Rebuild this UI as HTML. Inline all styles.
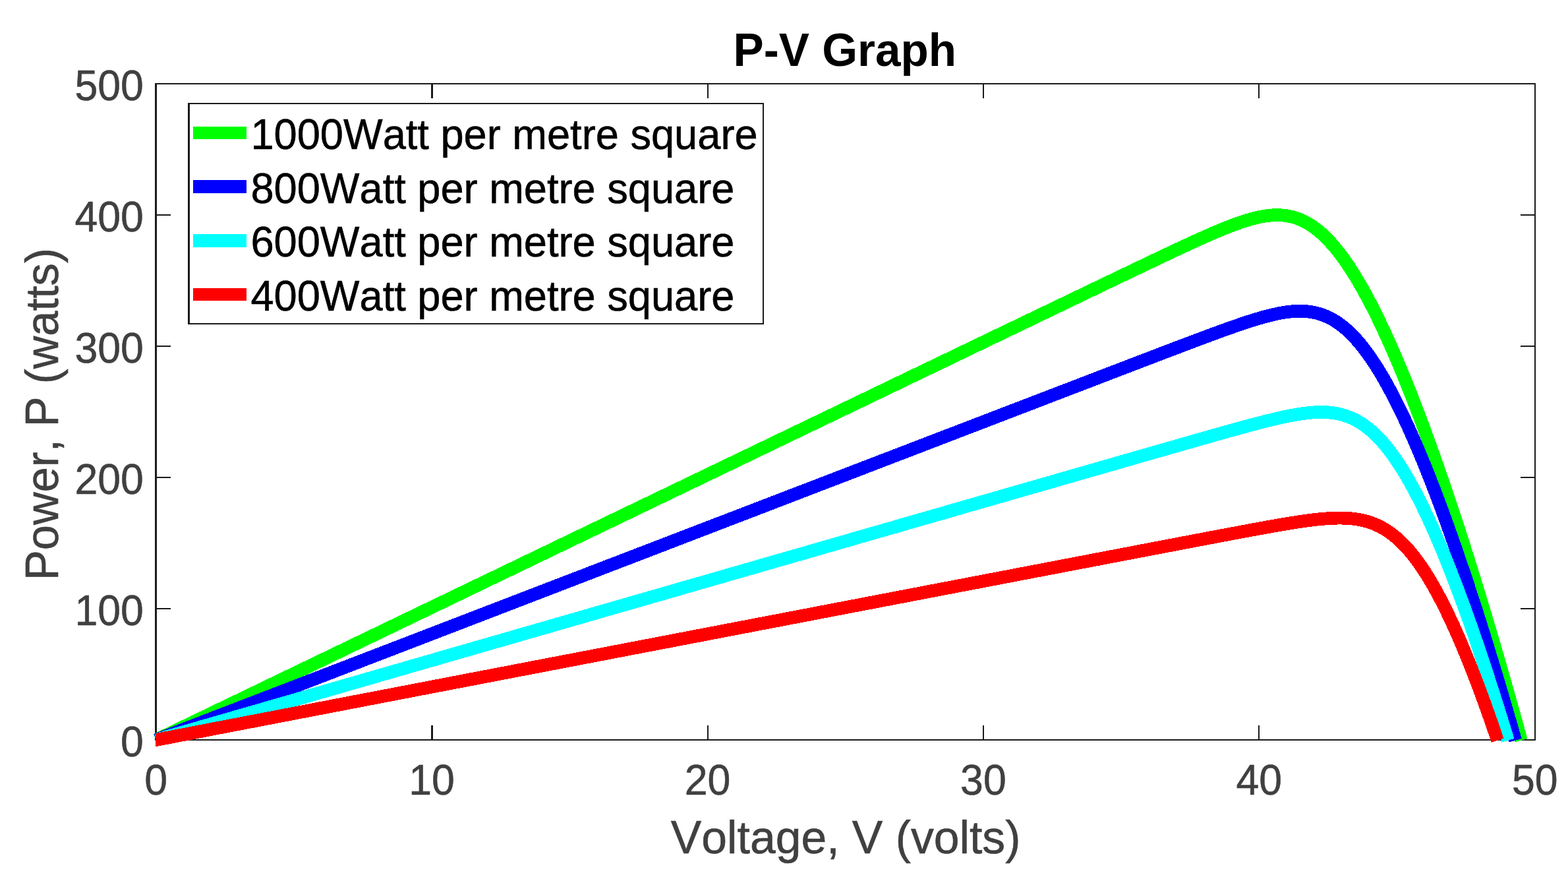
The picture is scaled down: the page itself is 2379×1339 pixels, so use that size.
<!DOCTYPE html>
<html lang="en">
<head>
<meta charset="utf-8">
<title>P-V Graph</title>
<style>
html,body{margin:0;padding:0;background:#fff;}
body{width:2379px;height:1339px;overflow:hidden;}
svg{display:block;}
text{font-family:"Liberation Sans",sans-serif;font-kerning:none;}
.tk{fill:#404040;stroke:#404040;stroke-width:0.6px;}
.lb{fill:#404040;stroke:#404040;stroke-width:0.6px;}
.tt{font-weight:bold;fill:#000;}
.lg{fill:#000;stroke:#000;stroke-width:0.6px;}
</style>
</head>
<body>
<svg width="2379" height="1339" viewBox="0 0 2379 1339" role="img" aria-label="P-V Graph">
<rect x="0" y="0" width="2379" height="1339" fill="#ffffff"/>
<g fill="#1a1a1a" shape-rendering="crispEdges">
<rect x="235" y="126" width="3" height="997"/>
<rect x="2328" y="126" width="2" height="997"/>
<rect x="235" y="126" width="2095" height="2"/>
<rect x="235" y="1121" width="2095" height="2"/>
<rect x="654" y="1100" width="3" height="21"/>
<rect x="654" y="128" width="3" height="21"/>
<rect x="1073" y="1100" width="2" height="21"/>
<rect x="1073" y="128" width="2" height="21"/>
<rect x="1491" y="1100" width="2" height="21"/>
<rect x="1491" y="128" width="2" height="21"/>
<rect x="1909" y="1100" width="2" height="21"/>
<rect x="1909" y="128" width="2" height="21"/>
<rect x="238" y="922" width="21" height="2"/>
<rect x="2307" y="922" width="21" height="2"/>
<rect x="238" y="723" width="21" height="2"/>
<rect x="2307" y="723" width="21" height="2"/>
<rect x="238" y="524" width="21" height="2"/>
<rect x="2307" y="524" width="21" height="2"/>
<rect x="238" y="325" width="21" height="2"/>
<rect x="2307" y="325" width="21" height="2"/>
</g>
<text class="tk" text-anchor="middle" font-size="65.30" transform="translate(236.70,1204.85) scale(0.9587,1)">0</text>
<text class="tk" text-anchor="middle" font-size="65.30" transform="translate(655.10,1204.85) scale(0.9587,1)">10</text>
<text class="tk" text-anchor="middle" font-size="65.30" transform="translate(1073.50,1204.85) scale(0.9587,1)">20</text>
<text class="tk" text-anchor="middle" font-size="65.30" transform="translate(1491.90,1204.85) scale(0.9587,1)">30</text>
<text class="tk" text-anchor="middle" font-size="65.30" transform="translate(1910.30,1204.85) scale(0.9587,1)">40</text>
<text class="tk" text-anchor="middle" font-size="65.30" transform="translate(2328.70,1204.85) scale(0.9587,1)">50</text>
<text class="tk" text-anchor="end" font-size="65.30" transform="translate(217.90,1147.00) scale(0.9587,1)">0</text>
<text class="tk" text-anchor="end" font-size="65.30" transform="translate(217.90,948.00) scale(0.9587,1)">100</text>
<text class="tk" text-anchor="end" font-size="65.30" transform="translate(217.90,749.00) scale(0.9587,1)">200</text>
<text class="tk" text-anchor="end" font-size="65.30" transform="translate(217.90,550.00) scale(0.9587,1)">300</text>
<text class="tk" text-anchor="end" font-size="65.30" transform="translate(217.90,351.00) scale(0.9587,1)">400</text>
<text class="tk" text-anchor="end" font-size="65.30" transform="translate(217.90,152.00) scale(0.9587,1)">500</text>
<text class="lb" text-anchor="start" font-size="70.40" transform="translate(1017.85,1293.90) scale(0.9898,1)">Voltage, V (volts)</text>
<text class="lb" text-anchor="start" font-size="70.10" transform="translate(88.00,880.00) rotate(-90) scale(0.9800,1)">Power, P (watts)</text>
<text class="tt" text-anchor="start" font-size="71.00" transform="translate(1112.50,100.00) scale(0.9754,1)">P-V Graph</text>
<g fill="none" stroke-width="19.8" stroke-linejoin="round" stroke-linecap="butt" shape-rendering="crispEdges">
<polyline stroke="#00ff00" points="237.00,1122.00 257.92,1111.93 278.84,1101.87 299.76,1091.81 320.68,1081.74 341.60,1071.68 362.52,1061.61 383.44,1051.55 404.36,1041.49 425.28,1031.43 446.20,1021.36 467.12,1011.30 488.04,1001.24 508.96,991.18 529.88,981.12 550.80,971.06 571.72,961.00 592.64,950.94 613.56,940.88 634.48,930.83 655.40,920.77 676.32,910.71 697.24,900.65 718.16,890.60 739.08,880.54 760.00,870.49 780.92,860.43 801.84,850.38 822.76,840.32 843.68,830.27 864.60,820.21 885.52,810.16 906.44,800.11 927.36,790.06 948.28,780.00 969.20,769.95 990.12,759.90 1011.04,749.85 1031.96,739.80 1052.88,729.75 1073.80,719.70 1094.72,709.65 1115.64,699.60 1136.56,689.55 1157.48,679.51 1178.40,669.46 1199.32,659.41 1220.24,649.36 1241.16,639.32 1262.08,629.27 1283.00,619.23 1303.92,609.18 1324.84,599.14 1345.76,589.09 1366.68,579.05 1387.60,569.00 1408.52,558.96 1429.44,548.92 1450.36,538.88 1471.28,528.83 1492.20,518.79 1513.12,508.75 1534.04,498.71 1554.96,488.67 1575.88,478.63 1596.80,468.59 1617.72,458.56 1638.64,448.52 1659.56,438.49 1680.48,428.46 1701.40,418.45 1722.32,408.45 1743.24,398.47 1745.42,397.44 1747.60,396.40 1749.78,395.36 1751.96,394.33 1754.14,393.29 1756.32,392.26 1758.50,391.22 1760.68,390.19 1762.86,389.16 1765.04,388.13 1767.22,387.10 1769.40,386.07 1771.58,385.04 1773.76,384.01 1775.94,382.99 1778.12,381.96 1780.30,380.94 1782.48,379.91 1784.67,378.89 1786.85,377.87 1789.03,376.85 1791.21,375.84 1793.39,374.82 1795.57,373.81 1797.75,372.80 1799.93,371.79 1802.11,370.78 1804.29,369.77 1806.47,368.77 1808.65,367.77 1810.83,366.77 1813.01,365.78 1815.19,364.79 1817.37,363.80 1819.55,362.81 1821.73,361.83 1823.91,360.85 1826.09,359.88 1828.27,358.91 1830.45,357.94 1832.63,356.98 1834.81,356.03 1836.99,355.08 1839.17,354.13 1841.35,353.19 1843.53,352.26 1845.71,351.33 1847.89,350.41 1850.07,349.50 1852.25,348.59 1854.43,347.69 1856.61,346.80 1858.79,345.92 1860.97,345.05 1863.15,344.19 1865.33,343.34 1867.52,342.50 1869.70,341.67 1871.88,340.85 1874.06,340.05 1876.24,339.26 1878.42,338.48 1880.60,337.72 1882.78,336.97 1884.96,336.24 1887.14,335.53 1889.32,334.83 1891.50,334.15 1893.68,333.50 1895.86,332.86 1898.04,332.24 1900.22,331.65 1902.40,331.08 1904.58,330.54 1906.76,330.02 1908.94,329.53 1911.12,329.06 1913.30,328.63 1915.48,328.22 1917.66,327.85 1919.84,327.51 1922.02,327.21 1924.20,326.94 1926.38,326.70 1928.56,326.51 1930.74,326.35 1932.92,326.24 1935.10,326.17 1937.28,326.14 1939.46,326.16 1941.64,326.22 1943.82,326.34 1946.00,326.50 1948.18,326.71 1950.37,326.97 1952.55,327.29 1954.73,327.67 1956.91,328.09 1959.09,328.58 1961.27,329.13 1963.45,329.73 1965.63,330.40 1967.81,331.13 1969.99,331.92 1972.17,332.77 1974.35,333.69 1976.53,334.68 1978.71,335.74 1980.89,336.86 1983.07,338.05 1985.25,339.31 1987.43,340.64 1989.61,342.03 1991.79,343.51 1993.97,345.05 1996.15,346.66 1998.33,348.34 2000.51,350.10 2002.69,351.93 2004.87,353.83 2007.05,355.80 2009.23,357.85 2011.41,359.97 2013.59,362.16 2015.77,364.42 2017.95,366.76 2020.13,369.16 2022.31,371.64 2024.49,374.19 2026.67,376.81 2028.85,379.50 2031.04,382.26 2033.22,385.09 2035.40,387.98 2037.58,390.95 2039.76,393.98 2041.94,397.09 2044.12,400.25 2046.30,403.49 2048.48,406.79 2050.66,410.15 2052.84,413.58 2055.02,417.08 2057.20,420.63 2059.38,424.25 2061.56,427.93 2063.74,431.67 2065.92,435.47 2068.10,439.34 2070.28,443.26 2072.46,447.24 2074.64,451.27 2076.82,455.37 2079.00,459.52 2081.18,463.73 2083.36,467.99 2085.54,472.31 2087.72,476.68 2089.90,481.10 2092.08,485.58 2094.26,490.11 2096.44,494.70 2098.62,499.33 2100.80,504.01 2102.98,508.74 2105.16,513.53 2107.34,518.36 2109.52,523.24 2111.70,528.17 2113.89,533.14 2116.07,538.16 2118.25,543.23 2120.43,548.34 2122.61,553.50 2124.79,558.71 2126.97,563.95 2129.15,569.25 2131.33,574.58 2133.51,579.96 2135.69,585.38 2137.87,590.84 2140.05,596.35 2142.23,601.89 2144.41,607.48 2146.59,613.11 2148.77,618.77 2150.95,624.48 2153.13,630.23 2155.31,636.01 2157.49,641.84 2159.67,647.70 2161.85,653.60 2164.03,659.53 2166.21,665.51 2168.39,671.52 2170.57,677.57 2172.75,683.66 2174.93,689.78 2177.11,695.94 2179.29,702.13 2181.47,708.36 2183.65,714.62 2185.83,720.92 2188.01,727.25 2190.19,733.62 2192.37,740.02 2194.55,746.45 2196.74,752.92 2198.92,759.42 2201.10,765.95 2203.28,772.52 2205.46,779.12 2207.64,785.75 2209.82,792.41 2212.00,799.11 2214.18,805.83 2216.36,812.59 2218.54,819.38 2220.72,826.20 2222.90,833.06 2225.08,839.94 2227.26,846.85 2229.44,853.80 2231.62,860.77 2233.80,867.77 2235.98,874.81 2238.16,881.87 2240.34,888.97 2242.52,896.09 2244.70,903.24 2246.88,910.42 2249.06,917.63 2251.24,924.87 2253.42,932.14 2255.60,939.43 2257.78,946.76 2259.96,954.11 2262.14,961.49 2264.32,968.90 2266.50,976.34 2268.68,983.80 2270.86,991.30 2273.04,998.82 2275.22,1006.37 2277.40,1013.94 2279.59,1021.54 2281.77,1029.17 2283.95,1036.83 2286.13,1044.51 2288.31,1052.22 2290.49,1059.95 2292.67,1067.72 2294.85,1075.51 2297.03,1083.32 2299.21,1091.17 2301.39,1099.03 2303.57,1106.93 2305.75,1114.85 2307.93,1122.80"/>
<polyline stroke="#0000ff" points="237.00,1122.00 257.92,1113.95 278.84,1105.90 299.76,1097.84 320.68,1089.79 341.60,1081.74 362.52,1073.69 383.44,1065.64 404.36,1057.59 425.28,1049.54 446.20,1041.50 467.12,1033.45 488.04,1025.40 508.96,1017.35 529.88,1009.31 550.80,1001.26 571.72,993.21 592.64,985.17 613.56,977.12 634.48,969.08 655.40,961.03 676.32,952.99 697.24,944.94 718.16,936.90 739.08,928.86 760.00,920.81 780.92,912.77 801.84,904.73 822.76,896.69 843.68,888.65 864.60,880.61 885.52,872.57 906.44,864.53 927.36,856.49 948.28,848.45 969.20,840.41 990.12,832.37 1011.04,824.34 1031.96,816.30 1052.88,808.26 1073.80,800.22 1094.72,792.19 1115.64,784.15 1136.56,776.12 1157.48,768.08 1178.40,760.05 1199.32,752.01 1220.24,743.98 1241.16,735.95 1262.08,727.91 1283.00,719.88 1303.92,711.85 1324.84,703.82 1345.76,695.79 1366.68,687.76 1387.60,679.73 1408.52,671.70 1429.44,663.67 1450.36,655.64 1471.28,647.61 1492.20,639.58 1513.12,631.55 1534.04,623.52 1554.96,615.50 1575.88,607.47 1596.80,599.44 1617.72,591.42 1638.64,583.39 1659.56,575.37 1680.48,567.35 1701.40,559.33 1722.32,551.32 1743.24,543.31 1745.39,542.49 1747.53,541.67 1749.68,540.85 1751.83,540.03 1753.97,539.21 1756.12,538.39 1758.27,537.57 1760.41,536.75 1762.56,535.93 1764.71,535.11 1766.85,534.30 1769.00,533.48 1771.15,532.66 1773.29,531.84 1775.44,531.02 1777.59,530.21 1779.73,529.39 1781.88,528.57 1784.03,527.76 1786.17,526.94 1788.32,526.13 1790.47,525.31 1792.61,524.50 1794.76,523.68 1796.91,522.87 1799.05,522.06 1801.20,521.25 1803.35,520.44 1805.49,519.62 1807.64,518.81 1809.79,518.01 1811.93,517.20 1814.08,516.39 1816.23,515.58 1818.37,514.78 1820.52,513.97 1822.67,513.17 1824.81,512.37 1826.96,511.57 1829.11,510.77 1831.25,509.97 1833.40,509.17 1835.55,508.38 1837.69,507.58 1839.84,506.79 1841.99,506.00 1844.13,505.21 1846.28,504.42 1848.43,503.64 1850.57,502.86 1852.72,502.08 1854.87,501.30 1857.01,500.52 1859.16,499.75 1861.31,498.98 1863.45,498.22 1865.60,497.45 1867.75,496.69 1869.89,495.94 1872.04,495.19 1874.19,494.44 1876.33,493.69 1878.48,492.96 1880.63,492.22 1882.77,491.49 1884.92,490.77 1887.07,490.05 1889.21,489.34 1891.36,488.63 1893.51,487.93 1895.65,487.24 1897.80,486.55 1899.95,485.87 1902.09,485.20 1904.24,484.54 1906.39,483.89 1908.53,483.25 1910.68,482.61 1912.83,481.99 1914.97,481.38 1917.12,480.78 1919.27,480.19 1921.41,479.62 1923.56,479.05 1925.71,478.51 1927.85,477.97 1930.00,477.46 1932.15,476.96 1934.29,476.47 1936.44,476.01 1938.59,475.56 1940.73,475.13 1942.88,474.73 1945.03,474.34 1947.17,473.98 1949.32,473.64 1951.47,473.32 1953.61,473.03 1955.76,472.77 1957.91,472.54 1960.05,472.33 1962.20,472.16 1964.35,472.01 1966.49,471.90 1968.64,471.82 1970.79,471.78 1972.93,471.78 1975.08,471.81 1977.23,471.88 1979.37,472.00 1981.52,472.15 1983.67,472.35 1985.81,472.59 1987.96,472.88 1990.11,473.22 1992.25,473.60 1994.40,474.04 1996.55,474.52 1998.69,475.06 2000.84,475.66 2002.99,476.30 2005.13,477.01 2007.28,477.77 2009.43,478.60 2011.57,479.48 2013.72,480.42 2015.87,481.43 2018.01,482.50 2020.16,483.64 2022.31,484.84 2024.45,486.10 2026.60,487.43 2028.75,488.83 2030.89,490.30 2033.04,491.84 2035.19,493.45 2037.33,495.13 2039.48,496.87 2041.63,498.69 2043.77,500.58 2045.92,502.54 2048.07,504.57 2050.21,506.68 2052.36,508.86 2054.51,511.10 2056.65,513.42 2058.80,515.82 2060.95,518.28 2063.09,520.81 2065.24,523.42 2067.39,526.10 2069.53,528.84 2071.68,531.66 2073.83,534.55 2075.97,537.51 2078.12,540.54 2080.27,543.63 2082.41,546.80 2084.56,550.03 2086.71,553.33 2088.85,556.69 2091.00,560.12 2093.15,563.62 2095.29,567.19 2097.44,570.81 2099.59,574.50 2101.73,578.26 2103.88,582.07 2106.03,585.95 2108.17,589.89 2110.32,593.89 2112.47,597.95 2114.61,602.07 2116.76,606.25 2118.91,610.48 2121.05,614.78 2123.20,619.13 2125.35,623.53 2127.49,628.00 2129.64,632.51 2131.79,637.08 2133.93,641.71 2136.08,646.38 2138.23,651.11 2140.37,655.89 2142.52,660.73 2144.67,665.61 2146.81,670.54 2148.96,675.53 2151.11,680.56 2153.25,685.64 2155.40,690.77 2157.55,695.94 2159.69,701.17 2161.84,706.44 2163.99,711.75 2166.13,717.11 2168.28,722.52 2170.42,727.97 2172.57,733.46 2174.72,739.00 2176.86,744.58 2179.01,750.20 2181.16,755.86 2183.30,761.57 2185.45,767.32 2187.60,773.11 2189.74,778.94 2191.89,784.80 2194.04,790.71 2196.18,796.66 2198.33,802.65 2200.48,808.68 2202.62,814.74 2204.77,820.84 2206.92,826.98 2209.06,833.16 2211.21,839.37 2213.36,845.62 2215.50,851.91 2217.65,858.24 2219.80,864.59 2221.94,870.99 2224.09,877.42 2226.24,883.88 2228.38,890.38 2230.53,896.92 2232.68,903.49 2234.82,910.09 2236.97,916.72 2239.12,923.39 2241.26,930.09 2243.41,936.83 2245.56,943.60 2247.70,950.39 2249.85,957.23 2252.00,964.09 2254.14,970.99 2256.29,977.91 2258.44,984.87 2260.58,991.86 2262.73,998.88 2264.88,1005.93 2267.02,1013.02 2269.17,1020.13 2271.32,1027.27 2273.46,1034.44 2275.61,1041.64 2277.76,1048.88 2279.90,1056.14 2282.05,1063.43 2284.20,1070.75 2286.34,1078.10 2288.49,1085.48 2290.64,1092.88 2292.78,1100.32 2294.93,1107.78 2297.08,1115.27 2299.22,1122.80"/>
<polyline stroke="#00ffff" points="237.00,1122.00 257.92,1115.96 278.84,1109.92 299.76,1103.88 320.68,1097.85 341.60,1091.81 362.52,1085.77 383.44,1079.73 404.36,1073.70 425.28,1067.66 446.20,1061.63 467.12,1055.59 488.04,1049.56 508.96,1043.52 529.88,1037.49 550.80,1031.46 571.72,1025.42 592.64,1019.39 613.56,1013.36 634.48,1007.33 655.40,1001.29 676.32,995.26 697.24,989.23 718.16,983.20 739.08,977.17 760.00,971.14 780.92,965.11 801.84,959.08 822.76,953.06 843.68,947.03 864.60,941.00 885.52,934.97 906.44,928.95 927.36,922.92 948.28,916.90 969.20,910.87 990.12,904.85 1011.04,898.82 1031.96,892.80 1052.88,886.77 1073.80,880.75 1094.72,874.73 1115.64,868.70 1136.56,862.68 1157.48,856.66 1178.40,850.64 1199.32,844.62 1220.24,838.60 1241.16,832.58 1262.08,826.56 1283.00,820.54 1303.92,814.52 1324.84,808.50 1345.76,802.48 1366.68,796.46 1387.60,790.45 1408.52,784.43 1429.44,778.41 1450.36,772.40 1471.28,766.38 1492.20,760.37 1513.12,754.35 1534.04,748.34 1554.96,742.32 1575.88,736.31 1596.80,730.30 1617.72,724.28 1638.64,718.27 1659.56,712.26 1680.48,706.25 1701.40,700.24 1722.32,694.23 1743.24,688.23 1745.34,687.62 1747.45,687.02 1749.55,686.42 1751.65,685.81 1753.76,685.21 1755.86,684.61 1757.96,684.00 1760.07,683.40 1762.17,682.80 1764.27,682.19 1766.38,681.59 1768.48,680.99 1770.58,680.39 1772.69,679.78 1774.79,679.18 1776.89,678.58 1779.00,677.98 1781.10,677.37 1783.20,676.77 1785.31,676.17 1787.41,675.57 1789.51,674.97 1791.62,674.36 1793.72,673.76 1795.82,673.16 1797.93,672.56 1800.03,671.96 1802.13,671.36 1804.24,670.76 1806.34,670.16 1808.44,669.56 1810.55,668.96 1812.65,668.36 1814.75,667.76 1816.86,667.16 1818.96,666.56 1821.06,665.96 1823.17,665.36 1825.27,664.77 1827.37,664.17 1829.48,663.57 1831.58,662.97 1833.68,662.38 1835.79,661.78 1837.89,661.19 1839.99,660.59 1842.10,660.00 1844.20,659.40 1846.30,658.81 1848.41,658.22 1850.51,657.63 1852.61,657.03 1854.72,656.44 1856.82,655.85 1858.92,655.27 1861.03,654.68 1863.13,654.09 1865.23,653.50 1867.34,652.92 1869.44,652.33 1871.54,651.75 1873.65,651.17 1875.75,650.59 1877.85,650.01 1879.96,649.43 1882.06,648.86 1884.16,648.28 1886.27,647.71 1888.37,647.14 1890.47,646.57 1892.58,646.00 1894.68,645.43 1896.78,644.87 1898.89,644.31 1900.99,643.75 1903.09,643.19 1905.20,642.64 1907.30,642.09 1909.40,641.54 1911.51,641.00 1913.61,640.45 1915.71,639.92 1917.82,639.38 1919.92,638.85 1922.02,638.33 1924.13,637.80 1926.23,637.29 1928.33,636.77 1930.44,636.27 1932.54,635.76 1934.64,635.27 1936.75,634.78 1938.85,634.29 1940.95,633.82 1943.06,633.34 1945.16,632.88 1947.26,632.42 1949.37,631.98 1951.47,631.54 1953.57,631.11 1955.68,630.69 1957.78,630.27 1959.88,629.87 1961.99,629.48 1964.09,629.11 1966.19,628.74 1968.30,628.39 1970.40,628.04 1972.50,627.72 1974.61,627.41 1976.71,627.11 1978.81,626.83 1980.91,626.56 1983.02,626.32 1985.12,626.09 1987.22,625.88 1989.33,625.69 1991.43,625.53 1993.53,625.38 1995.64,625.26 1997.74,625.16 1999.84,625.09 2001.95,625.04 2004.05,625.02 2006.15,625.03 2008.26,625.06 2010.36,625.13 2012.46,625.23 2014.57,625.36 2016.67,625.53 2018.77,625.73 2020.88,625.97 2022.98,626.25 2025.08,626.56 2027.19,626.92 2029.29,627.32 2031.39,627.76 2033.50,628.25 2035.60,628.78 2037.70,629.36 2039.81,629.99 2041.91,630.67 2044.01,631.40 2046.12,632.18 2048.22,633.01 2050.32,633.91 2052.43,634.85 2054.53,635.86 2056.63,636.92 2058.74,638.04 2060.84,639.22 2062.94,640.46 2065.05,641.77 2067.15,643.14 2069.25,644.57 2071.36,646.07 2073.46,647.64 2075.56,649.27 2077.67,650.97 2079.77,652.73 2081.87,654.57 2083.98,656.47 2086.08,658.44 2088.18,660.48 2090.29,662.59 2092.39,664.78 2094.49,667.03 2096.60,669.35 2098.70,671.74 2100.80,674.21 2102.91,676.74 2105.01,679.35 2107.11,682.02 2109.22,684.77 2111.32,687.59 2113.42,690.47 2115.53,693.43 2117.63,696.45 2119.73,699.54 2121.84,702.70 2123.94,705.93 2126.04,709.23 2128.15,712.60 2130.25,716.03 2132.35,719.53 2134.46,723.09 2136.56,726.72 2138.66,730.41 2140.77,734.17 2142.87,737.99 2144.97,741.87 2147.08,745.82 2149.18,749.83 2151.28,753.90 2153.39,758.03 2155.49,762.22 2157.59,766.46 2159.70,770.77 2161.80,775.14 2163.90,779.56 2166.01,784.04 2168.11,788.57 2170.21,793.16 2172.32,797.81 2174.42,802.51 2176.52,807.26 2178.63,812.07 2180.73,816.93 2182.83,821.84 2184.94,826.80 2187.04,831.81 2189.14,836.87 2191.25,841.99 2193.35,847.15 2195.45,852.36 2197.56,857.62 2199.66,862.92 2201.76,868.27 2203.87,873.67 2205.97,879.12 2208.07,884.61 2210.18,890.14 2212.28,895.72 2214.38,901.34 2216.49,907.01 2218.59,912.72 2220.69,918.47 2222.80,924.27 2224.90,930.10 2227.00,935.98 2229.11,941.90 2231.21,947.86 2233.31,953.86 2235.42,959.90 2237.52,965.98 2239.62,972.09 2241.73,978.25 2243.83,984.44 2245.93,990.68 2248.04,996.95 2250.14,1003.25 2252.24,1009.60 2254.35,1015.98 2256.45,1022.39 2258.55,1028.85 2260.66,1035.34 2262.76,1041.86 2264.86,1048.42 2266.97,1055.01 2269.07,1061.64 2271.17,1068.30 2273.28,1074.99 2275.38,1081.73 2277.48,1088.49 2279.59,1095.28 2281.69,1102.11 2283.79,1108.98 2285.90,1115.87 2288.00,1122.80"/>
<polyline stroke="#ff0000" points="236.00,1122.00 237.00,1122.00 257.92,1117.97 278.84,1113.95 299.76,1109.92 320.68,1105.90 341.60,1101.87 362.52,1097.85 383.44,1093.83 404.36,1089.80 425.28,1085.78 446.20,1081.76 467.12,1077.74 488.04,1073.71 508.96,1069.69 529.88,1065.67 550.80,1061.65 571.72,1057.63 592.64,1053.61 613.56,1049.59 634.48,1045.57 655.40,1041.56 676.32,1037.54 697.24,1033.52 718.16,1029.50 739.08,1025.49 760.00,1021.47 780.92,1017.45 801.84,1013.44 822.76,1009.42 843.68,1005.41 864.60,1001.39 885.52,997.38 906.44,993.37 927.36,989.35 948.28,985.34 969.20,981.33 990.12,977.32 1011.04,973.31 1031.96,969.29 1052.88,965.28 1073.80,961.27 1094.72,957.26 1115.64,953.25 1136.56,949.25 1157.48,945.24 1178.40,941.23 1199.32,937.22 1220.24,933.21 1241.16,929.21 1262.08,925.20 1283.00,921.19 1303.92,917.19 1324.84,913.18 1345.76,909.18 1366.68,905.17 1387.60,901.17 1408.52,897.16 1429.44,893.16 1450.36,889.16 1471.28,885.16 1492.20,881.15 1513.12,877.15 1534.04,873.15 1554.96,869.15 1575.88,865.15 1596.80,861.15 1617.72,857.15 1638.64,853.15 1659.56,849.15 1680.48,845.15 1701.40,841.15 1722.32,837.16 1743.24,833.16 1745.28,832.77 1747.32,832.38 1749.37,831.99 1751.41,831.60 1753.45,831.21 1755.49,830.82 1757.54,830.43 1759.58,830.04 1761.62,829.65 1763.66,829.26 1765.70,828.87 1767.75,828.48 1769.79,828.09 1771.83,827.70 1773.87,827.31 1775.92,826.92 1777.96,826.54 1780.00,826.15 1782.04,825.76 1784.08,825.37 1786.13,824.98 1788.17,824.59 1790.21,824.20 1792.25,823.81 1794.29,823.42 1796.34,823.03 1798.38,822.64 1800.42,822.25 1802.46,821.86 1804.51,821.47 1806.55,821.09 1808.59,820.70 1810.63,820.31 1812.67,819.92 1814.72,819.53 1816.76,819.14 1818.80,818.75 1820.84,818.36 1822.89,817.98 1824.93,817.59 1826.97,817.20 1829.01,816.81 1831.05,816.42 1833.10,816.04 1835.14,815.65 1837.18,815.26 1839.22,814.87 1841.27,814.49 1843.31,814.10 1845.35,813.71 1847.39,813.33 1849.43,812.94 1851.48,812.55 1853.52,812.17 1855.56,811.78 1857.60,811.39 1859.65,811.01 1861.69,810.62 1863.73,810.24 1865.77,809.85 1867.81,809.47 1869.86,809.09 1871.90,808.70 1873.94,808.32 1875.98,807.94 1878.02,807.55 1880.07,807.17 1882.11,806.79 1884.15,806.41 1886.19,806.03 1888.24,805.65 1890.28,805.27 1892.32,804.89 1894.36,804.51 1896.40,804.13 1898.45,803.75 1900.49,803.38 1902.53,803.00 1904.57,802.62 1906.62,802.25 1908.66,801.88 1910.70,801.50 1912.74,801.13 1914.78,800.76 1916.83,800.39 1918.87,800.02 1920.91,799.66 1922.95,799.29 1925.00,798.92 1927.04,798.56 1929.08,798.20 1931.12,797.84 1933.16,797.48 1935.21,797.12 1937.25,796.77 1939.29,796.41 1941.33,796.06 1943.38,795.71 1945.42,795.36 1947.46,795.02 1949.50,794.68 1951.54,794.34 1953.59,794.00 1955.63,793.66 1957.67,793.33 1959.71,793.00 1961.75,792.68 1963.80,792.36 1965.84,792.04 1967.88,791.72 1969.92,791.41 1971.97,791.11 1974.01,790.81 1976.05,790.51 1978.09,790.22 1980.13,789.93 1982.18,789.65 1984.22,789.38 1986.26,789.11 1988.30,788.85 1990.35,788.59 1992.39,788.34 1994.43,788.10 1996.47,787.87 1998.51,787.65 2000.56,787.43 2002.60,787.22 2004.64,787.03 2006.68,786.84 2008.73,786.66 2010.77,786.50 2012.81,786.34 2014.85,786.20 2016.89,786.07 2018.94,785.96 2020.98,785.85 2023.02,785.77 2025.06,785.69 2027.11,785.64 2029.15,785.60 2031.19,785.58 2033.23,785.58 2035.27,785.59 2037.32,785.63 2039.36,785.68 2041.40,785.76 2043.44,785.86 2045.48,785.99 2047.53,786.14 2049.57,786.31 2051.61,786.52 2053.65,786.75 2055.70,787.00 2057.74,787.29 2059.78,787.61 2061.82,787.96 2063.86,788.35 2065.91,788.77 2067.95,789.22 2069.99,789.71 2072.03,790.24 2074.08,790.81 2076.12,791.42 2078.16,792.07 2080.20,792.77 2082.24,793.51 2084.29,794.29 2086.33,795.12 2088.37,796.00 2090.41,796.93 2092.46,797.91 2094.50,798.94 2096.54,800.02 2098.58,801.16 2100.62,802.35 2102.67,803.60 2104.71,804.90 2106.75,806.27 2108.79,807.69 2110.84,809.17 2112.88,810.71 2114.92,812.32 2116.96,813.98 2119.00,815.71 2121.05,817.50 2123.09,819.36 2125.13,821.28 2127.17,823.27 2129.22,825.33 2131.26,827.45 2133.30,829.64 2135.34,831.89 2137.38,834.21 2139.43,836.60 2141.47,839.06 2143.51,841.59 2145.55,844.18 2147.59,846.84 2149.64,849.57 2151.68,852.37 2153.72,855.24 2155.76,858.17 2157.81,861.17 2159.85,864.24 2161.89,867.37 2163.93,870.58 2165.97,873.84 2168.02,877.18 2170.06,880.58 2172.10,884.05 2174.14,887.58 2176.19,891.17 2178.23,894.83 2180.27,898.55 2182.31,902.34 2184.35,906.19 2186.40,910.10 2188.44,914.07 2190.48,918.10 2192.52,922.20 2194.57,926.35 2196.61,930.56 2198.65,934.83 2200.69,939.16 2202.73,943.54 2204.78,947.99 2206.82,952.49 2208.86,957.04 2210.90,961.65 2212.95,966.31 2214.99,971.03 2217.03,975.80 2219.07,980.63 2221.11,985.50 2223.16,990.43 2225.20,995.41 2227.24,1000.44 2229.28,1005.52 2231.32,1010.65 2233.37,1015.82 2235.41,1021.05 2237.45,1026.32 2239.49,1031.64 2241.54,1037.01 2243.58,1042.42 2245.62,1047.88 2247.66,1053.39 2249.70,1058.94 2251.75,1064.53 2253.79,1070.17 2255.83,1075.85 2257.87,1081.57 2259.92,1087.34 2261.96,1093.14 2264.00,1098.99 2266.04,1104.88 2268.08,1110.81 2270.13,1116.79 2272.17,1122.80"/>
</g>
<g shape-rendering="crispEdges"><rect x="285" y="156" width="874" height="336" fill="#1a1a1a"/><rect x="288" y="158" width="869" height="332" fill="#ffffff"/></g>
<rect x="293" y="192" width="81" height="19" fill="#00ff00" shape-rendering="crispEdges"/>
<text class="lg" text-anchor="start" font-size="65.10" transform="translate(380.45,226.00) scale(0.9708,1)">1000Watt per metre square</text>
<rect x="293" y="273" width="81" height="20" fill="#0000ff" shape-rendering="crispEdges"/>
<text class="lg" text-anchor="start" font-size="65.10" transform="translate(380.45,307.80) scale(0.9708,1)">800Watt per metre square</text>
<rect x="293" y="355" width="81" height="20" fill="#00ffff" shape-rendering="crispEdges"/>
<text class="lg" text-anchor="start" font-size="65.10" transform="translate(380.45,389.40) scale(0.9708,1)">600Watt per metre square</text>
<rect x="293" y="437" width="81" height="19" fill="#ff0000" shape-rendering="crispEdges"/>
<text class="lg" text-anchor="start" font-size="65.10" transform="translate(380.45,470.90) scale(0.9708,1)">400Watt per metre square</text>
</svg>
</body>
</html>
